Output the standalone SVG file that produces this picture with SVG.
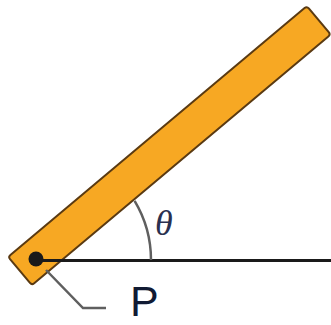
<svg xmlns="http://www.w3.org/2000/svg" width="331" height="325" viewBox="0 0 331 325">
<style>
.rod{fill:#F7A823;stroke:#5A3A12;stroke-width:2}
.line{stroke:#1a1a1a;stroke-width:3;fill:none}
.grey{stroke:#5f5f5f;stroke-width:2.5;fill:none}
.lbl{font-family:"Liberation Sans",Arial,sans-serif;fill:#111a33}
.theta{font-family:"Liberation Serif","Times New Roman",serif;font-style:italic;fill:#2a3050}
</style>
<rect width="331" height="325" fill="#ffffff"/>
<g id="rod">
<rect class="rod" x="0" y="-18.5" width="390" height="37" rx="3" transform="translate(20,271) rotate(-40)"/>
</g>
<g id="connectors">
<line class="line" x1="36" y1="260.5" x2="331" y2="260.5"/>
<path class="grey" d="M134.6,200.8 A115,115 0 0 1 151,260"/>
<polyline class="grey" points="46,270 83,308 106,308"/>
</g>
<g id="pivot">
<circle cx="36" cy="259" r="7.5" fill="#1a1a1a"/>
</g>
<g id="label-P">
<text class="lbl" x="130" y="316" font-size="43">P</text>
</g>
<g id="label-theta">
<text class="theta" x="155" y="235" font-size="36">θ</text>
</g>
</svg>
